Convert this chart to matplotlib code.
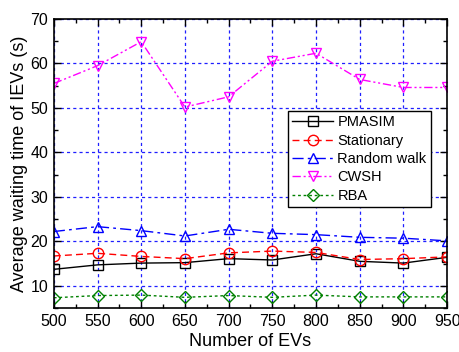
import matplotlib.pyplot as plt
from matplotlib.ticker import MultipleLocator

plt.rcParams['font.family'] = ['Liberation Sans', 'DejaVu Sans']

# ===== Data =====
num_evs = [500, 550, 600, 650, 700, 750, 800, 850, 900, 950]
pmasim = [13.7, 14.7, 15.1, 15.2, 16.1, 15.8, 17.2, 15.5, 15.1, 16.4]
stationary = [16.7, 17.3, 16.6, 16.1, 17.4, 17.8, 17.5, 15.9, 16.1, 16.5]
random_walk = [22.2, 23.3, 22.4, 21.2, 22.7, 21.8, 21.5, 20.9, 20.7, 20.1]
cwsh = [55.5, 59.5, 64.9, 50.2, 52.5, 60.5, 62.3, 56.4, 54.6, 54.6]
rba = [7.3, 7.8, 7.9, 7.4, 7.8, 7.4, 7.9, 7.5, 7.5, 7.5]

# ===== Plot =====
fig = plt.figure(figsize=(4.6, 3.52), dpi=100)
ax = fig.add_axes([0.117, 0.125, 0.855, 0.821])

ax.grid(True, which='major', color='#1f1fff', linestyle=(0, (2.5, 2.5)), linewidth=0.9)
ax.set_axisbelow(True)

style = dict(markersize=7.5, markerfacecolor='none', linewidth=1.0, markeredgewidth=1.0)
ax.plot(num_evs, pmasim, color='black', linestyle='-', marker='s', label='PMASIM', **style)
ax.plot(num_evs, stationary, color='red', linestyle=(0, (5, 3)), marker='o', label='Stationary', **style)
ax.plot(num_evs, random_walk, color='blue', linestyle=(0, (8, 3, 2, 3)), marker='^', label='Random walk', **style)
ax.plot(num_evs, cwsh, color='magenta', linestyle=(0, (6, 2, 1.5, 2, 1.5, 2)), marker='v', label='CWSH', **style)
ax.plot(num_evs, rba, color='green', linestyle=(0, (2, 2)), marker='D', label='RBA',
        markersize=6.5, markerfacecolor='none', linewidth=1.0, markeredgewidth=1.0)

ax.set_xlim(500, 950)
ax.set_ylim(5, 70)
ax.xaxis.set_major_locator(MultipleLocator(50))
ax.xaxis.set_minor_locator(MultipleLocator(25))
ax.yaxis.set_major_locator(MultipleLocator(10))
ax.yaxis.set_minor_locator(MultipleLocator(5))
ax.tick_params(which='both', direction='in', top=True, right=True, labelsize=11.5, width=1.0)
ax.tick_params(which='major', length=5, pad=4)
ax.tick_params(which='minor', length=3)
for s in ax.spines.values():
    s.set_linewidth(1.2)

ax.set_xlabel('Number of EVs', fontsize=13, labelpad=3)
ax.set_ylabel('Average waiting time of IEVs (s)', fontsize=13, labelpad=2)

leg = ax.legend(loc='lower right', bbox_to_anchor=(0.959, 0.349), borderaxespad=0,
                fontsize=10.5, fancybox=False, framealpha=1, edgecolor='black',
                handlelength=2.8, borderpad=0.3, labelspacing=0.3, handletextpad=0.3)
leg.get_frame().set_linewidth(1.0)

fig.savefig('out.png', dpi=100)
